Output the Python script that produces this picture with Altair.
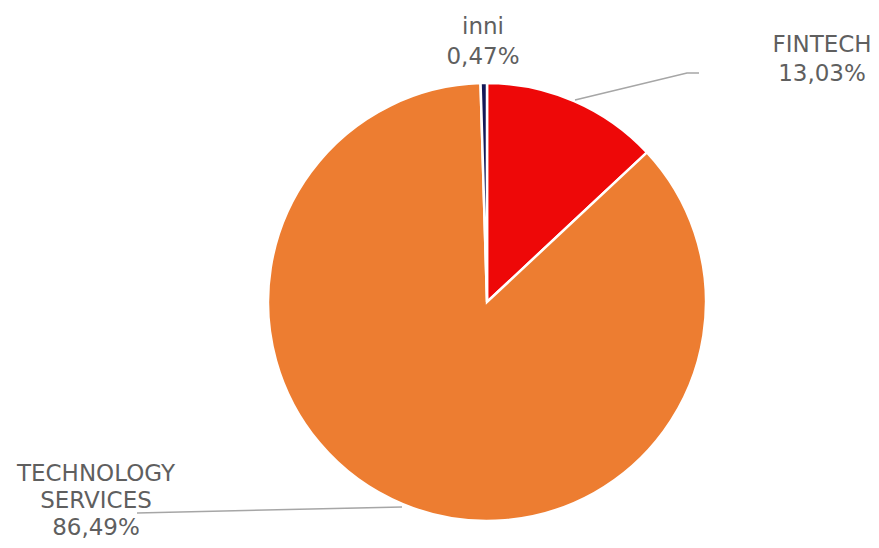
import altair as alt
import pandas as pd

# data
categories = ["FINTECH", "TECHNOLOGY SERVICES", "inni"]
shares = [13.03, 86.49, 0.47]
share_labels = ["13,03%", "86,49%", "0,47%"]
colors = ["#EE0808", "#ED7D31", "#141858"]

# label layout (plot-area pixels)
label_lines = [["FINTECH", "13,03%"], ["TECHNOLOGY", "SERVICES", "86,49%"], ["inni", "0,47%"]]
label_x = [814, 88, 475]
label_y0 = [36.5, 466, 19]
line_gap = [29.5, 27, 29.5]
leader_x = [[567, 679, 691], [394, 129], []]
leader_y = [[92, 65, 65], [499, 505], []]

W, H = 863, 532
CX, CY, R = 479, 294, 219

pie_df = pd.DataFrame({"cat": categories, "share": shares, "order": list(range(len(categories)))})

rows = []
for i, lines in enumerate(label_lines):
    for j, t in enumerate(lines):
        rows.append({"t": t, "x": label_x[i], "y": label_y0[i] + j * line_gap[i]})
text_df = pd.DataFrame(rows)

lrows = []
for i in range(len(categories)):
    for k, (x, y) in enumerate(zip(leader_x[i], leader_y[i])):
        lrows.append({"g": categories[i], "k": k, "x": x, "y": y})
lead_df = pd.DataFrame(lrows)

pie = alt.Chart(pie_df).mark_arc(outerRadius=R, stroke="white", strokeWidth=2.5).encode(
    theta=alt.Theta("share:Q", stack=True),
    order=alt.Order("order:Q"),
    color=alt.Color("cat:N", scale=alt.Scale(domain=categories, range=colors), legend=None),
    x=alt.value(CX),
    y=alt.value(CY),
)

leaders = alt.Chart(lead_df).mark_line(color="#A6A6A6", strokeWidth=1.5).encode(
    x=alt.X("x:Q", scale=None),
    y=alt.Y("y:Q", scale=None),
    detail="g:N",
    order="k:Q",
)

texts = alt.Chart(text_df).mark_text(
    font="DejaVu Sans", fontSize=23, color="#5F5F5F", align="center", baseline="middle"
).encode(
    x=alt.X("x:Q", scale=None),
    y=alt.Y("y:Q", scale=None),
    text="t:N",
)

chart = alt.layer(pie, leaders, texts).properties(
    width=W, height=H, padding=0, autosize=alt.AutoSizeParams(type="none")
).configure_view(stroke=None)

chart.save("out.html", embed_options={"renderer": "svg", "actions": False})
